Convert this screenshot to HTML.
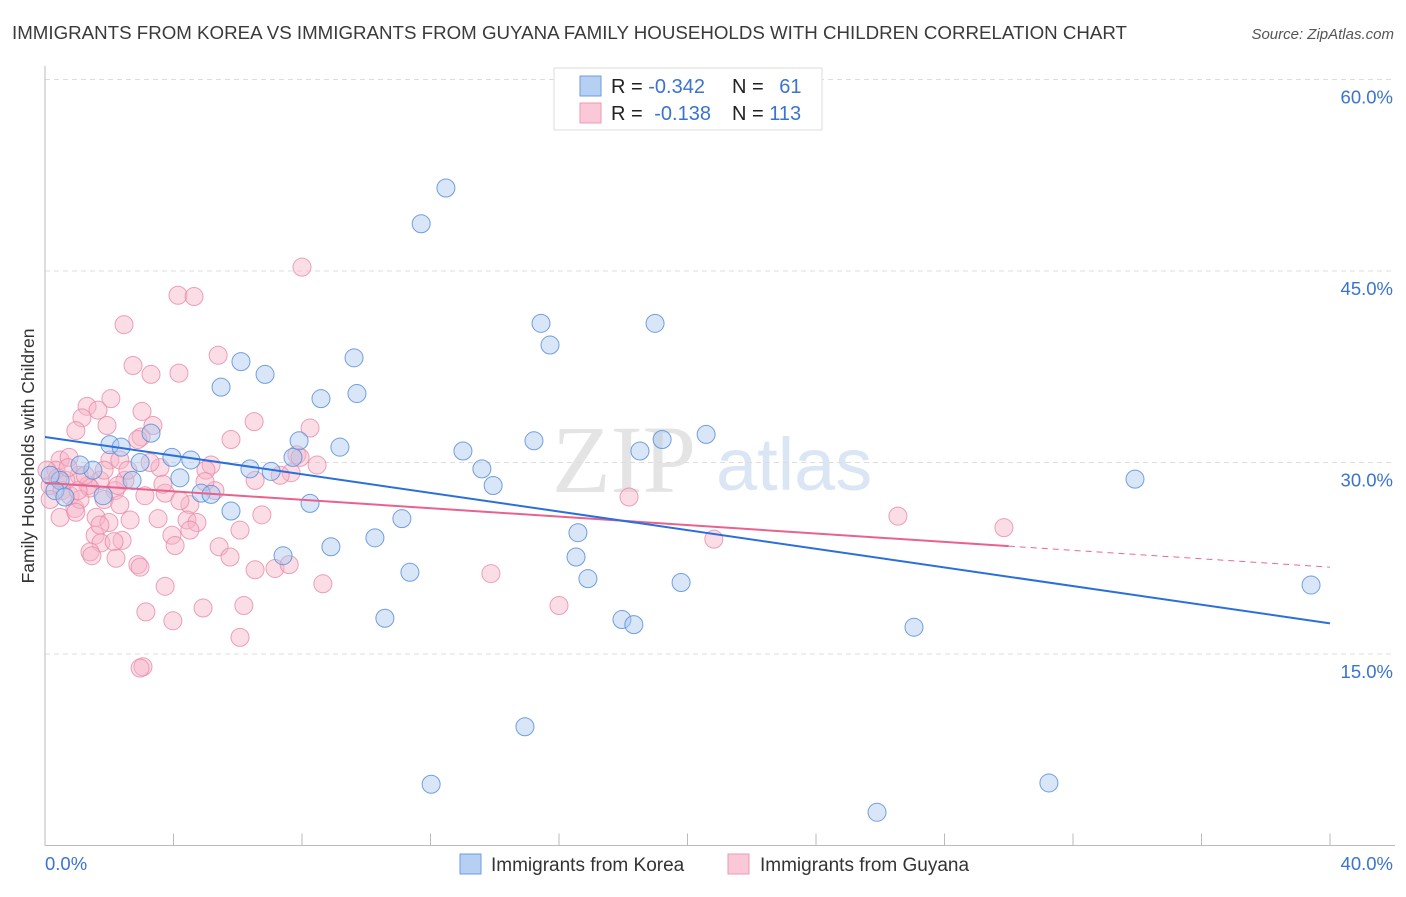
<!DOCTYPE html>
<html><head><meta charset="utf-8">
<style>
body{margin:0;background:#fff;font-family:"Liberation Sans",sans-serif;}
</style></head>
<body>
<svg id="chart" width="1406" height="892" xmlns="http://www.w3.org/2000/svg">
<text x="12" y="39" font-size="18" textLength="1115" lengthAdjust="spacingAndGlyphs" fill="#3a3a3a">IMMIGRANTS FROM KOREA VS IMMIGRANTS FROM GUYANA FAMILY HOUSEHOLDS WITH CHILDREN CORRELATION CHART</text>
<text x="1394" y="39" font-size="15" fill="#555" font-style="italic" text-anchor="end">Source: ZipAtlas.com</text>
<g>
<text x="552" y="492" font-size="96" font-family="Liberation Serif,serif" fill="#e4e4e4">ZIP</text>
<text x="716" y="490" font-size="74" fill="#dbe6f5">atlas</text>
</g>
<g id="grid"></g>
<g id="axes"></g>
<g id="pts"></g>
<g id="lines"></g>
<g>
<rect x="554" y="68" width="268" height="62" fill="#fff" stroke="#ddd"/>
<rect x="580" y="76" width="21" height="20" fill="#b5d0f3" stroke="#6f9be0"/>
<rect x="580" y="103" width="21" height="20" fill="#fbc8d8" stroke="#ec9ab4"/>
<text x="611" y="93" font-size="20" fill="#222">R = <tspan fill="#3a73d0">-0.342</tspan></text>
<text x="732" y="93" font-size="20" fill="#222">N = <tspan fill="#3a73d0" dx="10">61</tspan></text>
<text x="611" y="120" font-size="20" fill="#222">R = <tspan fill="#3a73d0" dx="6">-0.138</tspan></text>
<text x="732" y="120" font-size="20" fill="#222">N = <tspan fill="#3a73d0">113</tspan></text>
</g>
<g>
<rect x="460" y="854" width="21" height="20" fill="#b5d0f3" stroke="#6f9be0"/>
<text x="491" y="871" font-size="19" fill="#333">Immigrants from Korea</text>
<rect x="728" y="854" width="21" height="20" fill="#fbc8d8" stroke="#ec9ab4"/>
<text x="760" y="871" font-size="19" fill="#333">Immigrants from Guyana</text>
</g>
<text transform="translate(34,456) rotate(-90)" font-size="17.5" fill="#333" text-anchor="middle">Family Households with Children</text>
</svg>
<script>
const yTicks=[15,30,45,60];
const yTickLabels=["15.0%","30.0%","45.0%","60.0%"];
const xTicks=[0,4,8,12,16,20,24,28,32,36,40];
const xTickLabels=["0.0%","40.0%"];
const koreaX=[12.48,11.71,15.44,18.99,15.72,6.10,9.62,6.85,5.48,8.59,9.71,3.30,2.02,2.37,7.91,9.18,13.01,15.22,19.21,20.58,18.52,3.95,4.54,2.96,6.38,7.04,7.72,13.60,1.49,1.09,2.71,4.20,13.95,33.93,4.86,5.17,1.81,8.25,5.79,11.11,10.27,8.90,16.59,16.53,7.41,11.36,16.90,19.80,39.41,10.58,17.96,18.33,27.05,14.94,12.02,31.25,25.90,0.47,0.31,0.62,0.16];
const koreaY=[51.5,48.7,40.9,40.9,39.2,37.9,38.2,36.9,35.9,35.0,35.4,32.3,31.4,31.2,31.7,31.2,30.9,31.7,31.8,32.2,30.9,30.4,30.2,30.0,29.5,29.3,30.4,29.5,29.4,29.8,28.6,28.8,28.2,28.7,27.6,27.5,27.4,26.8,26.2,25.6,24.1,23.4,24.5,22.6,22.7,21.4,20.9,20.6,20.4,17.8,17.7,17.3,17.1,9.3,4.8,4.9,2.6,28.6,27.8,27.3,29.0];
const guyanaX=[8.0,4.14,4.64,2.46,5.39,2.74,3.30,4.17,2.05,1.31,1.65,1.15,3.02,6.51,0.96,1.93,3.36,8.25,2.99,7.84,7.66,8.47,0.47,0.75,2.02,2.33,3.58,5.17,5.01,2.49,1.06,1.71,1.34,0.34,0.16,0.53,0.78,1.40,2.18,3.11,3.74,5.29,1.84,4.51,2.33,0.93,0.47,1.59,4.20,6.75,3.52,4.42,4.73,1.99,1.56,6.07,2.40,3.95,4.05,1.74,2.15,1.40,5.42,1.46,2.21,5.76,2.89,2.96,7.16,6.54,7.60,8.65,13.88,3.74,6.19,4.92,3.14,3.98,16.0,6.07,3.05,26.55,29.85,20.82,18.18,1.09,0.16,0.65,0.06,0.40,1.03,1.25,0.72,1.84,2.27,2.58,1.71,4.98,6.54,3.67,0.96,2.65,3.27,7.94,7.32,4.51,2.89,5.79,2.96];
const guyanaY=[45.3,43.1,43.0,40.8,38.4,37.6,36.9,37.0,35.0,34.4,34.1,33.5,34.0,33.2,32.5,32.9,32.9,32.7,32.0,30.6,29.2,29.8,30.2,30.4,30.2,30.2,29.6,29.8,29.4,28.6,29.0,28.6,28.2,29.4,28.2,27.8,27.4,28.0,27.8,27.4,27.6,27.8,27.1,26.7,26.7,26.4,25.7,25.7,27.0,25.9,25.6,25.5,25.3,25.3,24.3,24.7,23.9,24.3,23.5,23.7,23.8,23.0,23.4,22.7,22.5,22.6,22.0,21.8,21.7,21.6,22.0,20.5,21.3,20.3,18.8,18.6,18.3,17.6,18.8,16.3,14.0,25.8,24.9,24.0,27.3,27.1,27.1,28.6,29.4,28.8,27.8,29.0,29.6,29.4,28.2,29.4,25.1,28.5,28.6,28.3,26.1,25.5,30.0,30.4,29.0,24.7,31.8,31.8,13.9];
const koreaTrend=[32.0,17.4];
const guyanaTrend=[28.4,21.8];
const guyanaSolidEnd=30.0;

const NS="http://www.w3.org/2000/svg";
const X0=45,X1=1330,Y0=845.5,Y60=79.5;
const sx=v=>X0+(X1-X0)*v/40;
const sy=v=>Y0-(Y0-Y60)*v/60;
function mk(tag,attrs,parent){const e=document.createElementNS(NS,tag);for(const k in attrs)e.setAttribute(k,attrs[k]);parent.appendChild(e);return e;}
const grid=document.getElementById('grid'),axes=document.getElementById('axes'),pts=document.getElementById('pts'),lines=document.getElementById('lines');
yTicks.forEach((t,i)=>{
  const l=mk('line',{x1:X0,x2:1395,y1:sy(t),y2:sy(t),stroke:'#ddd','stroke-dasharray':'5,4'},grid);
  
  
  const tx=mk('text',{x:1393,y:sy(t)+24,'font-size':18.5,fill:'#3a73d0','text-anchor':'end'},axes);
  tx.textContent=yTickLabels[i];
  
  
});
const ya=mk('line',{x1:X0,x2:X0,y1:66,y2:Y0,stroke:'#bbb'},axes);


const xa=mk('line',{x1:X0,x2:1395,y1:Y0,y2:Y0,stroke:'#bbb'},axes);


xTicks.forEach(t=>{
  const l=mk('line',{x1:sx(t),x2:sx(t),y1:Y0-12,y2:Y0,stroke:'#bbb'},axes);
  
  
});
[[0,'start'],[40,'end']].forEach((p,i)=>{
  const tx=mk('text',{x:i?1393:sx(p[0]),y:870,'font-size':18.5,fill:'#3a73d0','text-anchor':p[1]},axes);
  tx.textContent=xTickLabels[i];
  
  
});
guyanaX.forEach((v,i)=>{
  const c=mk('circle',{cx:sx(v),cy:sy(guyanaY[i]),r:9,fill:'#f7b3c8','fill-opacity':0.45,stroke:'#e88aa9','stroke-opacity':0.8,'stroke-width':1},pts);
  
  
});
koreaX.forEach((v,i)=>{
  const c=mk('circle',{cx:sx(v),cy:sy(koreaY[i]),r:9,fill:'#a9c8f0','fill-opacity':0.45,stroke:'#5b8fd9','stroke-opacity':0.85,'stroke-width':1},pts);
  
  
});
const gAt=x=>guyanaTrend[0]+(guyanaTrend[1]-guyanaTrend[0])*x/40;
const gd=mk('line',{x1:sx(guyanaSolidEnd),y1:sy(gAt(guyanaSolidEnd)),x2:sx(40),y2:sy(gAt(40)),stroke:'#e86a92','stroke-width':1,'stroke-dasharray':'6,5'},lines);


const gs=mk('line',{x1:sx(0),y1:sy(gAt(0)),x2:sx(guyanaSolidEnd),y2:sy(gAt(guyanaSolidEnd)),stroke:'#e8628d','stroke-width':2},lines);


const kl=mk('line',{x1:sx(0),y1:sy(koreaTrend[0]),x2:sx(40),y2:sy(koreaTrend[1]),stroke:'#2a6fdb','stroke-width':2},lines);


</script>
</body></html>
